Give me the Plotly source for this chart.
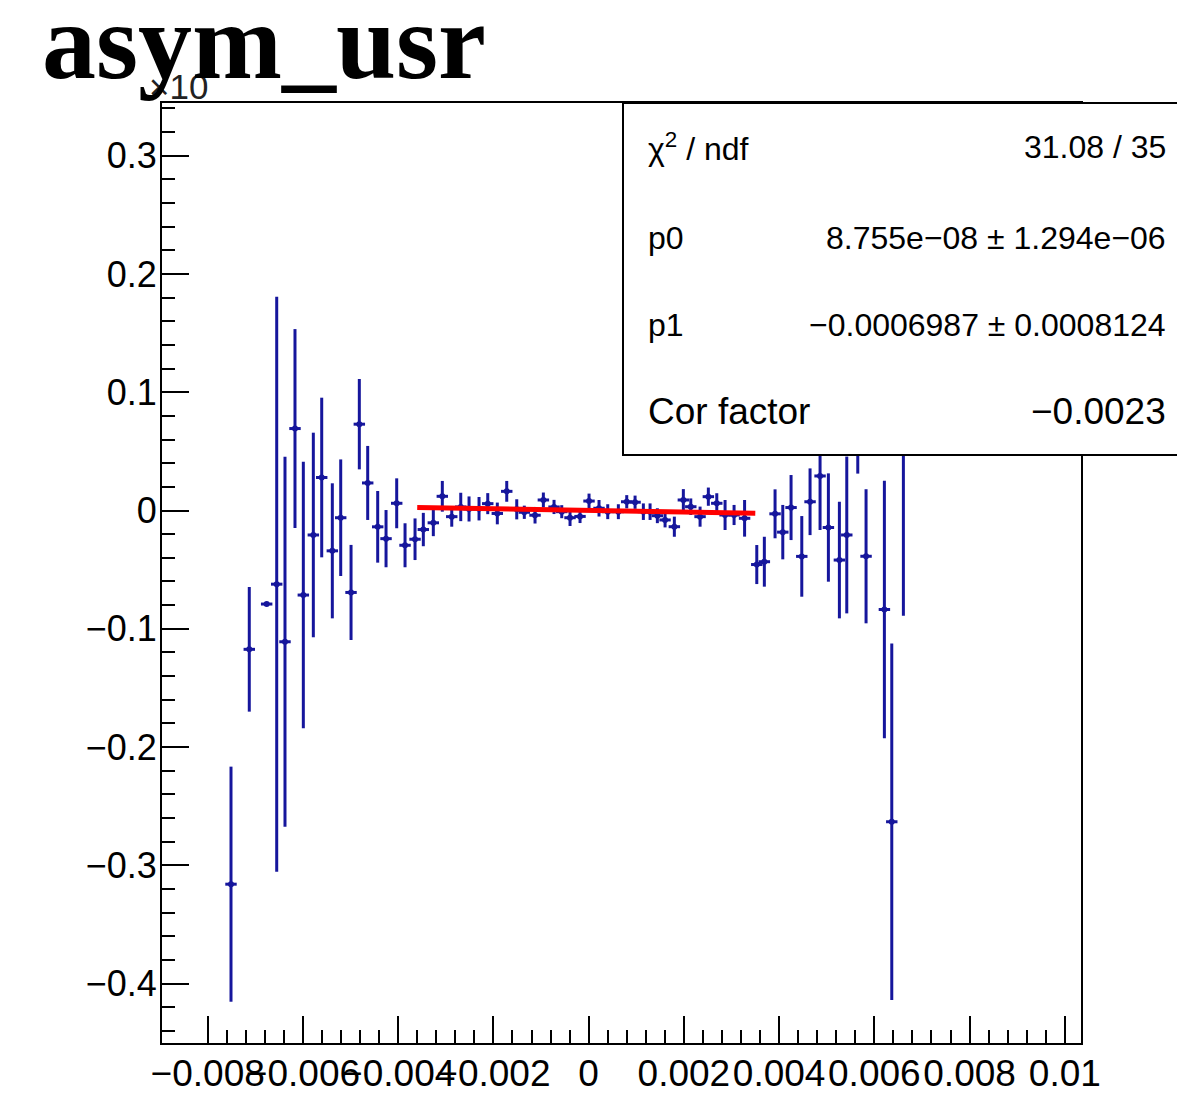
import plotly.graph_objects as go

# ---------------- data (y in units of 1e-3) ----------------
x_vals = [-0.007511, -0.007127, -0.006762, -0.006551, -0.006377, -0.006167, -0.005992,
          -0.005782, -0.005606, -0.005383, -0.005207, -0.004990, -0.004816, -0.004640,
          -0.004430, -0.004255, -0.004031, -0.003856, -0.003646, -0.003472, -0.003262,
          -0.003073, -0.002875, -0.002686, -0.002512, -0.002302, -0.002119, -0.001918,
          -0.001720, -0.001510, -0.001351, -0.001126, -0.000951, -0.000727, -0.000565,
          -0.000391, -0.000181, 0.000008, 0.000218, 0.000401, 0.000624, 0.000800,
          0.000975, 0.001149, 0.001290, 0.001443, 0.001605, 0.001800, 0.001989,
          0.002145, 0.002340, 0.002514, 0.002691, 0.002865, 0.003054, 0.003275,
          0.003531, 0.003690, 0.003915, 0.004077, 0.004251, 0.004476, 0.004650,
          0.004860, 0.005035, 0.005266, 0.005421, 0.005652, 0.005826, 0.006211,
          0.006366, 0.006610]
y_vals = [-0.3160, -0.1174, -0.0791, -0.0623, -0.1110, 0.0693, -0.0715,
          -0.0207, 0.0279, -0.0341, -0.0061, -0.0693, 0.0730, 0.0233,
          -0.0138, -0.0238, 0.0061, -0.0294, -0.0243, -0.0161, -0.0104,
          0.0120, -0.0052, 0.0030, 0.0013, 0.0015, 0.0058, -0.0025,
          0.0162, 0.0010, -0.0015, -0.0040, 0.0089, 0.0030, -0.0010,
          -0.0061, -0.0050, 0.0080, 0.0019, -0.0010, -0.0010, 0.0074,
          0.0070, -0.0010, -0.0010, -0.0044, -0.0080, -0.0137, 0.0089,
          0.0032, -0.0052, 0.0117, 0.0061, -0.0038, -0.0038, -0.0066,
          -0.0457, -0.0433, -0.0028, -0.0183, 0.0025, -0.0388, 0.0074,
          0.0292, -0.0144, -0.0419, -0.0207, 0.0892, -0.0387, -0.0837,
          -0.2632, 0.0681]
y_errs = [0.0994, 0.0527, 0.0, 0.2431, 0.1565, 0.0841, 0.1127,
          0.0865, 0.0675, 0.0571, 0.0493, 0.0402, 0.0382, 0.0313,
          0.0303, 0.0242, 0.0211, 0.0186, 0.0176, 0.0141, 0.0113,
          0.0130, 0.0085, 0.0120, 0.0106, 0.0099, 0.0089, 0.0092,
          0.0088, 0.0085, 0.0056, 0.0070, 0.0063, 0.0060, 0.0055,
          0.0070, 0.0056, 0.0063, 0.0070, 0.0063, 0.0063, 0.0056,
          0.0056, 0.0070, 0.0070, 0.0063, 0.0063, 0.0085, 0.0092,
          0.0070, 0.0085, 0.0077, 0.0085, 0.0127, 0.0085, 0.0155,
          0.0165, 0.0211, 0.0207, 0.0230, 0.0275, 0.0341, 0.0282,
          0.0457, 0.0458, 0.0493, 0.0663, 0.0580, 0.0567, 0.1089,
          0.1508, 0.1570]
x_half_width = 0.00012

# fit parameters (pol1)
p0 = 8.755e-08
p1 = -0.0006987
fit_range = [-0.0036, 0.0035]
y_scale = 1e3

x_ticks = [-0.008, -0.006, -0.004, -0.002, 0.0, 0.002, 0.004, 0.006, 0.008, 0.01]
x_ticktext = ["\u22120.008", "\u22120.006", "\u22120.004", "\u22120.002", "0",
              "0.002", "0.004", "0.006", "0.008", "0.01"]
y_ticks = [-0.4, -0.3, -0.2, -0.1, 0.0, 0.1, 0.2, 0.3]
y_ticktext = ["\u22120.4", "\u22120.3", "\u22120.2", "\u22120.1", "0", "0.1", "0.2", "0.3"]

stats_labels = ["\u03c7<sup>2</sup> / ndf", "p0", "p1", "Cor factor"]
stats_values = ["31.08 / 35", "8.755e\u221208 \u00b1 1.294e\u221206",
                "\u22120.0006987 \u00b1 0.0008124", "\u22120.0023"]

title_text = "asym_usr"

# ---------------- layout geometry (reference pixel coords) ----------------
OFF = 8                      # page body margin
W, H = 1185 - OFF, 1112 - OFF
L, R, T, B = 162, 1081, 103, 1043
x_range = [-0.00896, 0.01034]
y_range = [-0.4503, 0.3446]

def px(xp):
    return (xp - L) / (R - L)

def py(yp):
    return (B - yp) / (B - T)

x_minor = [round(-0.008 + i * 0.0004, 6) for i in range(0, 46)]
x_minor = [v for v in x_minor if v <= x_range[1]]
y_minor = [round(-0.44 + i * 0.02, 4) for i in range(0, 40)]
y_minor = [v for v in y_minor if y_range[0] <= v <= y_range[1]]

blue = "#16169c"
FONT = "Liberation Sans, Arial, sans-serif"

fig = go.Figure()
fig.add_trace(go.Scatter(
    x=x_vals, y=y_vals, mode="markers",
    marker=dict(size=0, color=blue),
    error_y=dict(type="data", array=y_errs, visible=True, color=blue, thickness=3, width=0),
    error_x=dict(type="constant", value=x_half_width, visible=True, color=blue, thickness=3, width=0),
    showlegend=False, hoverinfo="skip"))

fit_x = fit_range
fit_y = [(p0 + p1 * v) * y_scale for v in fit_x]
fig.add_trace(go.Scatter(x=fit_x, y=fit_y, mode="lines",
                         line=dict(color="#ff0000", width=5), showlegend=False))

fig.update_layout(
    width=W, height=H,
    margin=dict(l=L - OFF, r=W - (R - OFF), t=T - OFF, b=H - (B - OFF), autoexpand=False),
    paper_bgcolor="white", plot_bgcolor="white",
    xaxis=dict(range=x_range, showgrid=False, zeroline=False,
               showline=True, linecolor="black", linewidth=2, mirror=True,
               ticks="inside", ticklen=27, tickwidth=1.5, tickcolor="black",
               tickmode="array", tickvals=x_ticks, ticktext=x_ticktext,
               tickfont=dict(family=FONT, size=37, color="black"), tickangle=0,
               ticklabelstandoff=-3,
               minor=dict(tickmode="array", tickvals=x_minor, ticks="inside",
                          ticklen=13, tickwidth=1.5, tickcolor="black", showgrid=False)),
    yaxis=dict(range=y_range, showgrid=False, zeroline=False,
               showline=True, linecolor="black", linewidth=2, mirror=True,
               ticks="inside", ticklen=27, tickwidth=1.5, tickcolor="black",
               tickmode="array", tickvals=y_ticks, ticktext=y_ticktext,
               tickfont=dict(family=FONT, size=36, color="black"), ticklabelstandoff=-4,
               minor=dict(tickmode="array", tickvals=y_minor, ticks="inside",
                          ticklen=13, tickwidth=1.5, tickcolor="black", showgrid=False)),
)

# stats box
fig.add_shape(type="rect", xref="paper", yref="paper",
              x0=px(623), x1=px(1183), y0=py(455), y1=py(103),
              fillcolor="white", line=dict(color="black", width=2), layer="above")

row_y = [147, 238, 325, 412]
row_sizes = [32, 32, 32, 37]
for lab, val, yy, sz in zip(stats_labels, stats_values, row_y, row_sizes):
    f = dict(family=FONT, size=sz, color="black")
    fig.add_annotation(xref="paper", yref="paper", x=px(646), y=py(yy),
                       xanchor="left", yanchor="middle", text=lab, showarrow=False, font=f)
    fig.add_annotation(xref="paper", yref="paper", x=px(1168), y=py(yy),
                       xanchor="right", yanchor="middle", text=val, showarrow=False, font=f)

# exponent label (partly hidden behind the title in the original)
fig.add_annotation(xref="paper", yref="paper", x=px(147), y=py(87),
                   xanchor="left", yanchor="middle", text="\u00d710", showarrow=False,
                   font=dict(family=FONT, size=35, color="#222222"))

# title
fig.add_annotation(xref="paper", yref="paper", x=px(40), y=py(42),
                   xanchor="left", yanchor="middle", text="<b>" + title_text + "</b>", showarrow=False,
                   font=dict(family="Liberation Serif, Times New Roman, serif", size=108, color="black"))

fig.write_html("out.html")
